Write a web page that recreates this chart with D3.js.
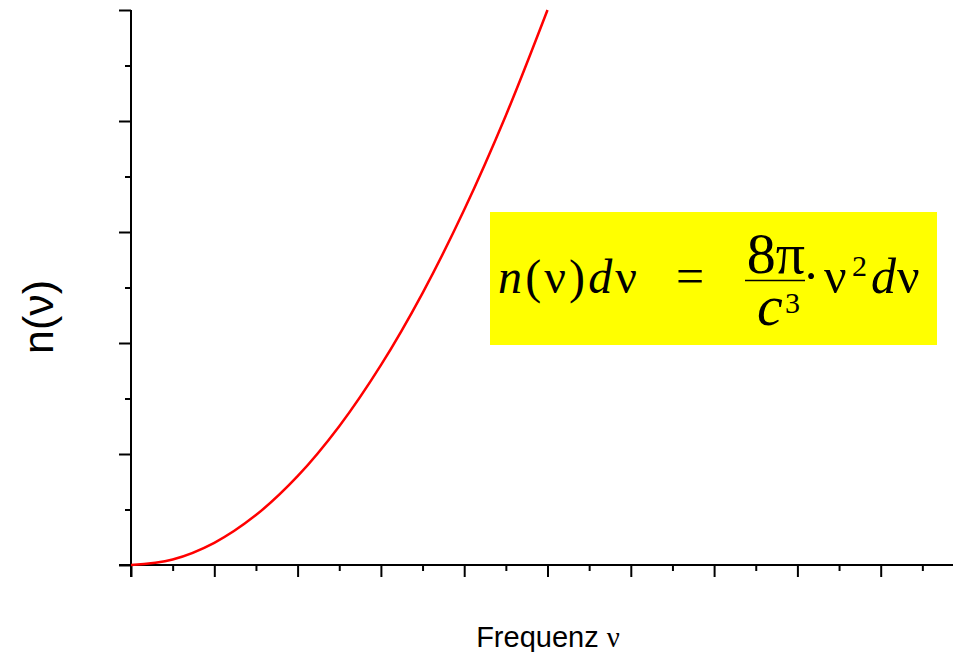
<!DOCTYPE html>
<html>
<head>
<meta charset="utf-8">
<script src="https://cdn.jsdelivr.net/npm/d3@7"></script>
<style>
  html, body { margin: 0; padding: 0; background: #fff; }
  svg { display: block; }
</style>
</head>
<body>
<div id="chart"></div>
<script>
// values (frequency in major tick units, n in major tick units)
const freq = [0, 0.5, 1, 1.5, 2, 2.5, 3, 3.5, 4, 4.5, 5];
const density = [0, 0.05, 0.2, 0.45, 0.8, 1.25, 1.8, 2.45, 3.2, 4.05, 5];
const xTicks = [0, 1, 2, 3, 4, 5, 6, 7, 8, 9];
const xMinorTicks = [0.5, 1.5, 2.5, 3.5, 4.5, 5.5, 6.5, 7.5, 8.5, 9.5];
const yTicks = [0, 1, 2, 3, 4, 5];
const yMinorTicks = [0.5, 1.5, 2.5, 3.5, 4.5];

const width = 953;
const height = 652;

const svg = d3.select('#chart').append('svg')
    .attr('width', width)
    .attr('height', height);

const xFun = d3.scaleLinear().domain([0, 10]).range([131, 964]);
const yFun = d3.scaleLinear().domain([0, 5]).range([565, 10]);

// x axis
const xAxisG = svg.append('g').attr('transform', `translate(0, ${yFun(0)})`);
xAxisG.call(d3.axisBottom(xFun).tickValues(xTicks).tickSize(12).tickFormat(''));
xAxisG.append('g').call(d3.axisBottom(xFun).tickValues(xMinorTicks).tickSize(6).tickFormat(''))
    .select('.domain').remove();
xAxisG.select('.domain').attr('d', `M119,0H${width + 20}`);

// y axis
const yAxisG = svg.append('g').attr('transform', `translate(${xFun(0)}, 0)`);
yAxisG.call(d3.axisLeft(yFun).tickValues(yTicks).tickSize(12).tickFormat(''));
yAxisG.append('g').call(d3.axisLeft(yFun).tickValues(yMinorTicks).tickSize(6).tickFormat(''))
    .select('.domain').remove();
yAxisG.select('.domain').attr('d', `M0,${yFun(5)}V${yFun(0) + 12}`);

svg.selectAll('.domain, .tick line')
    .attr('stroke', '#000')
    .attr('stroke-width', 2);

// curve
const line = d3.line()
    .x((d, i) => xFun(freq[i]))
    .y(d => yFun(d))
    .curve(d3.curveCatmullRom);

svg.append('path')
    .datum(density)
    .attr('d', line)
    .attr('fill', 'none')
    .attr('stroke', '#ff0000')
    .attr('stroke-width', 2.5);

// axis labels
svg.append('text')
    .attr('x', 548)
    .attr('y', 647)
    .attr('text-anchor', 'middle')
    .attr('font-family', 'Liberation Sans, Arial, sans-serif')
    .attr('font-size', 29)
    .text('Frequenz ')
    .append('tspan')
    .attr('font-family', 'Liberation Serif, Times New Roman, serif')
    .text('ν');

svg.append('text')
    .attr('transform', 'translate(53, 317) rotate(-90)')
    .attr('text-anchor', 'middle')
    .attr('font-family', 'Liberation Sans, Arial, sans-serif')
    .attr('font-size', 43)
    .text('n(ν)');

// formula box
const serif = 'Liberation Serif, Times New Roman, serif';
const box = svg.append('g').attr('font-family', serif);

box.append('rect')
    .attr('x', 490)
    .attr('y', 212)
    .attr('width', 447)
    .attr('height', 133)
    .attr('fill', '#ffff00');

const addText = (x, y, size, txt, italic, anchor) => box.append('text')
    .attr('x', x)
    .attr('y', y)
    .attr('font-size', size)
    .attr('font-style', italic ? 'italic' : 'normal')
    .attr('text-anchor', anchor || 'start')
    .text(txt);

// left side n(ν)dν
const lhs = box.append('text')
    .attr('x', 498)
    .attr('y', 293)
    .attr('font-size', 48)
    .attr('textLength', 139)
    .attr('lengthAdjust', 'spacing');
lhs.append('tspan').attr('font-style', 'italic').text('n');
lhs.append('tspan').text('(ν)');
lhs.append('tspan').attr('font-style', 'italic').text('d');
lhs.append('tspan').text('ν');

addText(690, 293, 50, '=', false, 'middle');

// fraction 8π / c³
addText(776, 273, 58, '8π', false, 'middle');
box.append('line')
    .attr('x1', 745)
    .attr('x2', 805)
    .attr('y1', 280.5)
    .attr('y2', 280.5)
    .attr('stroke', '#000')
    .attr('stroke-width', 1.5);
addText(757, 325, 58, 'c', true);
addText(785, 313, 30, '3', false);

// right side ·ν²dν
addText(811, 293, 50, '·', false, 'middle');
addText(824, 293, 50, 'ν', false);
addText(852, 276, 30, '2', false);
addText(871, 293, 50, 'd', true);
addText(897, 293, 50, 'ν', false);
</script>
</body>
</html>
